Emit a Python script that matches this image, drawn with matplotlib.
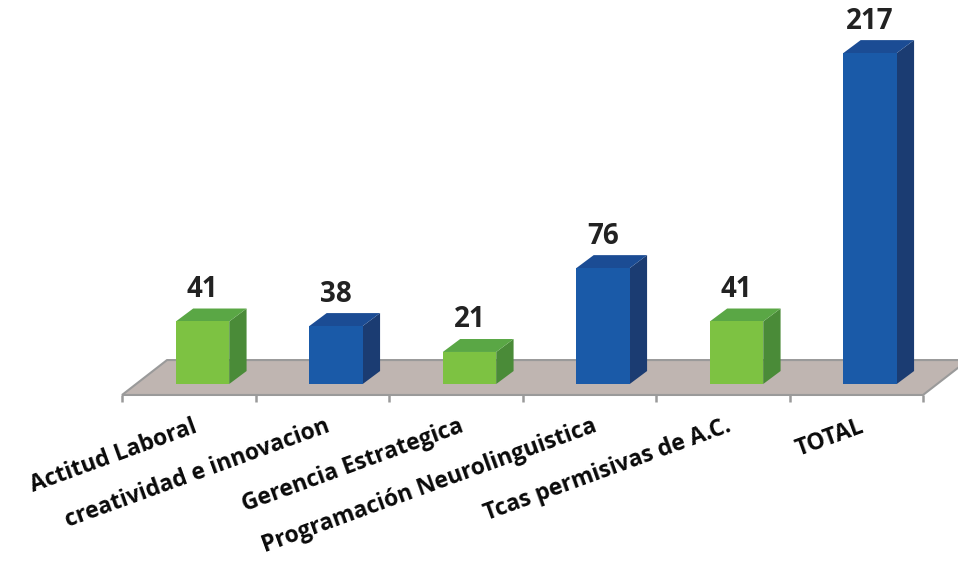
import matplotlib
matplotlib.use("Agg")
import matplotlib.pyplot as plt
from matplotlib.patches import Polygon

categories = ["Actitud Laboral", "creatividad e innovacion", "Gerencia Estrategica",
              "Programación Neurolinguistica", "Tcas permisivas de A.C.", "TOTAL"]
values = [41, 38, 21, 76, 41, 217]
front_colors = ["#7DC242", "#1A5AA8", "#7DC242", "#1A5AA8", "#7DC242", "#1A5AA8"]
side_colors = ["#4A8B38", "#1B3C72", "#4A8B38", "#1B3C72", "#4A8B38", "#1B3C72"]
top_colors = ["#5AA745", "#1B4C94", "#5AA745", "#1B4C94", "#5AA745", "#1B4C94"]

plt.rcParams['font.family'] = ['Open Sans', 'DejaVu Sans']

fig = plt.figure(figsize=(9.58, 5.67), dpi=100)
ax = fig.add_axes([0, 0, 1, 1])
ax.set_xlim(-1.517, 5.659)
ax.set_ylim(-120, 251.8)
ax.axis('off')

n = len(values)
hw = 0.2      # half width of bar front
ddx = 0.13    # depth offset x
ddy = 8.5     # depth offset y (value units)

# floor
f_front = -7.2
f_back = 15.7
fl = -0.603
fr = 5.397
fdx = 0.337
floor = Polygon([(fl, f_front), (fr, f_front), (fr + fdx, f_back), (fl + fdx, f_back)],
                closed=True, facecolor="#BFB5B1", edgecolor="#9A9A9A", lw=1.5, zorder=1)
ax.add_patch(floor)
# ticks
for k in range(n + 1):
    x = fl + k
    ax.plot([x, x], [f_front, f_front - 4.5], color="#9A9A9A", lw=1.8, zorder=1,
            solid_capstyle='butt')

for i, v in enumerate(values):
    x0, x1 = i - hw, i + hw
    # side
    ax.add_patch(Polygon([(x1, 0), (x1 + ddx, ddy), (x1 + ddx, v + ddy), (x1, v)],
                         closed=True, facecolor=side_colors[i], edgecolor='none', zorder=3))
    # top
    ax.add_patch(Polygon([(x0, v), (x1, v), (x1 + ddx, v + ddy), (x0 + ddx, v + ddy)],
                         closed=True, facecolor=top_colors[i], edgecolor='none', zorder=3))
    # front
    ax.bar(i, v, width=2 * hw, bottom=0, color=front_colors[i], edgecolor='none', zorder=4)
    ax.text(i, v + ddy + 3, str(v), ha='center', va='bottom', fontsize=20,
            fontweight='bold', color="#222222", zorder=5)
    ax.text(i - 0.08, -20, categories[i], ha='right', va='top', rotation=20,
            rotation_mode='anchor', fontsize=16.5, fontweight='bold', color="#0A0A0A")

fig.savefig("out.png", dpi=100)
